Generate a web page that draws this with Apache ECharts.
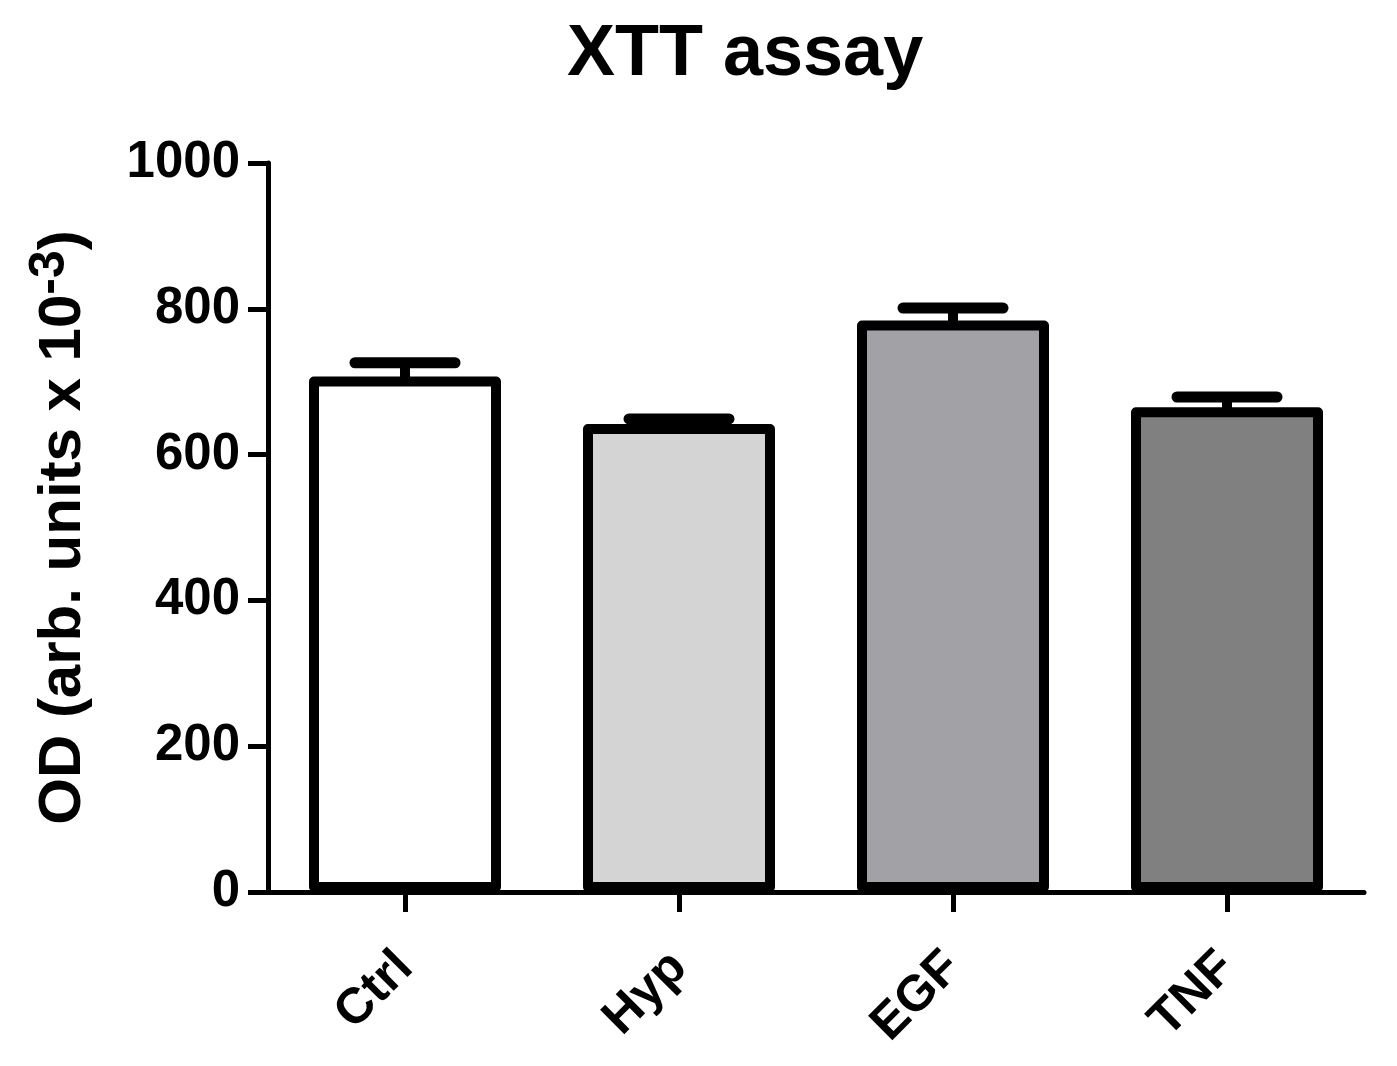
<!DOCTYPE html>
<html>
<head>
<meta charset="utf-8">
<script src="https://cdn.jsdelivr.net/npm/echarts@6/dist/echarts.min.js"></script>
<style>
html,body{margin:0;padding:0;background:#fff;}
#chart{width:1397px;height:1066px;}
</style>
</head>
<body>
<div id="chart"></div>
<script>
var categories = ['Ctrl', 'Hyp', 'EGF', 'TNF'];
var means = [707, 642, 784, 665];
var errors = [19, 7, 17, 14];
var fillColors = ['#ffffff', '#d4d4d4', '#a2a1a6', '#808080'];
var yTicks = [0, 200, 400, 600, 800, 1000];

var FONT = 'Liberation Sans, Arial, sans-serif';
var chart = echarts.init(document.getElementById('chart'), null, {renderer: 'canvas'});

chart.setOption({
  backgroundColor: '#ffffff',
  animation: false,
  title: {
    text: 'XTT assay',
    left: 562,
    top: 14,
    textStyle: {fontFamily: FONT, fontWeight: 'bold', fontSize: 72, color: '#000'}
  },
  grid: {left: 268, right: 33, top: 163, bottom: 174, containLabel: false},
  xAxis: {
    type: 'category',
    data: categories,
    axisLine: {lineStyle: {color: '#000', width: 5}},
    axisTick: {show: true, alignWithLabel: true, length: 20, lineStyle: {color: '#000', width: 5}},
    axisLabel: {
      rotate: 45, margin: 68, color: '#000',
      fontFamily: FONT, fontWeight: 'bold', fontSize: 50
    },
    splitLine: {show: false}
  },
  yAxis: {
    type: 'value',
    min: yTicks[0],
    max: yTicks[yTicks.length - 1],
    interval: 200,
    name: '{n|OD (arb. units x 10}{s|-3}{n|)}',
    nameLocation: 'middle',
    nameRotate: 90,
    nameGap: 175,
    nameTextStyle: {
      rich: {
        n: {fontFamily: FONT, fontWeight: 'bold', fontSize: 60, color: '#000', verticalAlign: 'bottom'},
        s: {fontFamily: FONT, fontWeight: 'bold', fontSize: 50, color: '#000', verticalAlign: 'top', padding: [0, 0, 18, 0]}
      }
    },
    axisLine: {show: true, lineStyle: {color: '#000', width: 5}},
    axisTick: {show: true, length: 20, lineStyle: {color: '#000', width: 5}},
    axisLabel: {
      margin: 28, color: '#000', fontFamily: FONT, fontWeight: 'bold', fontSize: 51,
      formatter: function (v) { return String(v); }
    },
    splitLine: {show: false}
  },
  series: [
    {
      type: 'bar',
      barWidth: 192,
      data: means.map(function (v, i) {
        return {value: v, itemStyle: {color: fillColors[i]}};
      }),
      itemStyle: {borderColor: '#000', borderWidth: 10, borderJoin: 'round'},
      z: 3
    },
    {
      type: 'custom',
      z: 4,
      data: means.map(function (v, i) { return [i, v, errors[i]]; }),
      renderItem: function (params, api) {
        var i = api.value(0);
        var v = api.value(1);
        var e = api.value(2);
        var base = api.coord([i, v]);
        var top = api.coord([i, v + e]);
        var half = 50;
        return {
          type: 'group',
          children: [
            {type: 'line', shape: {x1: base[0], y1: base[1] + 2, x2: top[0], y2: top[1]},
             style: {stroke: '#000', lineWidth: 10, lineCap: 'butt'}},
            {type: 'line', shape: {x1: top[0] - half, y1: top[1], x2: top[0] + half, y2: top[1]},
             style: {stroke: '#000', lineWidth: 11, lineCap: 'round'}}
          ]
        };
      }
    }
  ]
});
</script>
</body>
</html>
